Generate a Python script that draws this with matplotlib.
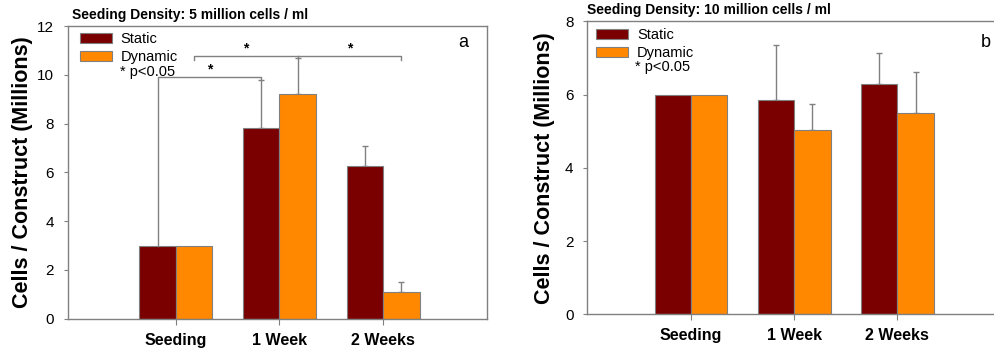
import matplotlib
matplotlib.use("Agg")
import matplotlib.pyplot as plt
from matplotlib.patches import Patch
import numpy as np

plt.rcParams['font.family'] = ['Liberation Sans', 'DejaVu Sans']

# Data
categories = ["Seeding", "1 Week", "2 Weeks"]

static_5m = [3.0, 7.8, 6.27]
static_5m_err = [0.0, 2.0, 0.82]
dynamic_5m = [3.0, 9.2, 1.1]
dynamic_5m_err = [0.0, 1.47, 0.4]

static_10m = [6.0, 5.86, 6.29]
static_10m_err = [0.0, 1.5, 0.84]
dynamic_10m = [6.0, 5.04, 5.49]
dynamic_10m_err = [0.0, 0.7, 1.13]

titles = ["Seeding Density: 5 million cells / ml",
          "Seeding Density: 10 million cells / ml"]
panel_letters = ["a", "b"]
legend_labels = ["Static", "Dynamic"]
note = "* p<0.05"
ylabel = "Cells / Construct (Millions)"

# significance brackets for panel a: (left bar, right bar, height)
brackets_5m = [(("static", 0), ("static", 1), 9.9),
               (("dynamic", 0), ("dynamic", 2), 10.77)]

STATIC_COLOR = "#7a0000"
DYNAMIC_COLOR = "#ff8800"
GRAY = "#808080"
W = 0.352

fig = plt.figure(figsize=(9.94, 3.5), dpi=100)
ax_a = fig.add_axes([0.0684, 0.0894, 0.4212, 0.8363])
ax_b = fig.add_axes([0.5910, 0.1020, 0.4178, 0.8371])

x = np.arange(1, len(categories) + 1)


def draw_panel(ax, s, se, d, de, ymax, yticks, title, letter, letter_pos, xlim, title_x):
    ax.bar(x - W / 2, s, W, color=STATIC_COLOR, edgecolor=GRAY, linewidth=0.8, zorder=2)
    ax.bar(x + W / 2, d, W, color=DYNAMIC_COLOR, edgecolor=GRAY, linewidth=0.8, zorder=2)
    for xs, v, e in [(x - W / 2, s, se), (x + W / 2, d, de)]:
        for xi, vi, ei in zip(xs, v, e):
            if ei > 0:
                ax.errorbar(xi, vi, yerr=[[0], [ei]], fmt="none", ecolor=GRAY,
                            elinewidth=1.0, capsize=2, capthick=1.0, zorder=1)
    ax.set_xlim(*xlim)
    ax.set_ylim(0, ymax)
    ax.set_yticks(yticks)
    ax.set_xticks(x)
    ax.set_xticklabels(categories, fontsize=11.5, fontweight="bold")
    ax.tick_params(axis="y", labelsize=11, length=3, width=0.8, color=GRAY, pad=7)
    ax.tick_params(axis="x", length=4, width=0.8, color=GRAY, pad=6)
    for sp in ax.spines.values():
        sp.set_color(GRAY)
        sp.set_linewidth(1.0)
    ax.set_ylabel(ylabel, fontsize=15.5, fontweight="bold")
    ax.set_title(title, fontsize=10, fontweight="bold", loc="left", pad=5, x=title_x)
    ax.text(letter_pos[0], letter_pos[1], letter, transform=ax.transAxes, fontsize=13,
            ha="center", va="center")
    handles = [Patch(facecolor=STATIC_COLOR, edgecolor=GRAY, linewidth=0.8),
               Patch(facecolor=DYNAMIC_COLOR, edgecolor=GRAY, linewidth=0.8)]
    return handles


def add_legend(ax, handles, anchor, note_pos):
    ax.legend(handles, legend_labels, loc="upper left", bbox_to_anchor=anchor,
              frameon=False, fontsize=10.5, handlelength=2.2, handleheight=0.62,
              handletextpad=0.6, labelspacing=0.28, borderaxespad=0.0)
    ax.text(note_pos[0], note_pos[1], note, transform=ax.transAxes, fontsize=10.5, va="center")


h = draw_panel(ax_a, static_5m, static_5m_err, dynamic_5m, dynamic_5m_err,
               12, [0, 2, 4, 6, 8, 10, 12], titles[0], panel_letters[0], (0.943, 0.942),
               (-0.04, 4.0), 0.009)
ax_a.yaxis.set_label_coords(-0.084, 0.5)
add_legend(ax_a, h, (0.0136, 0.999), (0.124, 0.844))

# significance brackets
def bar_x(which, i):
    return x[i] - W / 2 if which == "static" else x[i] + W / 2

def bar_top(which, i):
    if which == "static":
        return static_5m[i] + static_5m_err[i]
    return dynamic_5m[i] + dynamic_5m_err[i]

(l1, r1, y1), (l2, r2, y2) = brackets_5m
xa, xb = bar_x(*l1), bar_x(*r1)
ax_a.plot([xa, xa, xb, xb], [bar_top(*l1), y1, y1, bar_top(*r1)],
          color=GRAY, lw=1.0, zorder=3)
ax_a.text((xa + xb) / 2, y1 + 0.02, "*", ha="center", va="bottom", fontsize=10, fontweight="bold")

xc, xd = bar_x(*l2), bar_x(*r2)
xm = bar_x("dynamic", 1)
ax_a.plot([xc, xc, xd, xd], [y2 - 0.15, y2, y2, y2 - 0.15], color=GRAY, lw=1.0, zorder=3)
ax_a.plot([xm, xm], [bar_top("dynamic", 1), y2], color=GRAY, lw=1.0, zorder=3)
ax_a.text((xc + xm) / 2, y2 + 0.02, "*", ha="center", va="bottom", fontsize=10, fontweight="bold")
ax_a.text((xm + xd) / 2, y2 + 0.02, "*", ha="center", va="bottom", fontsize=10, fontweight="bold")

h = draw_panel(ax_b, static_10m, static_10m_err, dynamic_10m, dynamic_10m_err,
               8, [0, 2, 4, 6, 8], titles[1], panel_letters[1], (0.958, 0.926),
               (-0.002, 4.02), 0.0)
ax_b.yaxis.set_label_coords(-0.078, 0.5)
add_legend(ax_b, h, (0.0075, 0.997), (0.115, 0.845))

fig.savefig("out.png", dpi=100)
